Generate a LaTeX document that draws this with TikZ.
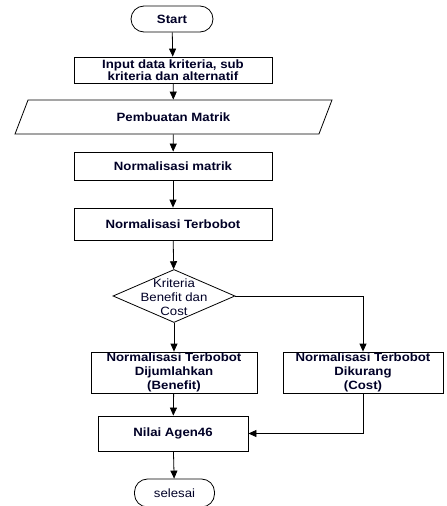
\documentclass[tikz,border=0pt]{standalone}
\usepackage{fontspec}
\setmainfont{Liberation Sans}[FakeStretch=1.1]
\usepackage{tikz}
\usetikzlibrary{shapes.geometric, arrows.meta}

\begin{document}
\begin{tikzpicture}[
		every node/.style={rectangle, draw, thick, align=center, inner sep=0pt,
			font=\bfseries\fontsize{12}{14}\selectfont, text=black!85!blue},
		terminal/.style={rounded corners=13pt},
		data/.style={trapezium, trapezium left angle=60, trapezium right angle=120,
			trapezium stretches=true},
		decision/.style={diamond, minimum width=122pt, minimum height=53pt},
		flow/.style={thick, -{Triangle[width=7pt, length=8pt]}}
	]
  \useasboundingbox (0pt, 0pt) rectangle (447pt, -506pt);
  \node (start) [terminal, minimum width=82pt, minimum height=26pt] at (172pt, -19pt) {Start};
  \node (input) [minimum width=198pt, minimum height=26pt, font=\bfseries\fontsize{12}{12}\selectfont] at (173pt, -70pt) {Input data kriteria, sub\\kriteria dan alternatif};
  \node (matrik) [data, minimum width=317pt, minimum height=34pt] at (173.5pt, -117pt) {Pembuatan Matrik};
  \node (norm) [minimum width=198pt, minimum height=28pt] at (173pt, -166pt) {Normalisasi matrik};
  \node (bobot) [minimum width=198pt, minimum height=32pt] at (173pt, -224pt) {Normalisasi Terbobot};
  \node (kriteria) [decision] at (174pt, -296pt) {};
  \node (kriteria_label) [draw=none, font=\fontsize{12}{14}\selectfont] at (174pt, -297pt) {Kriteria\\Benefit dan\\Cost};
  \node (benefit) [minimum width=166pt, minimum height=41pt] at (174pt, -372.5pt) {Normalisasi Terbobot\\Dijumlahkan\\(Benefit)};
  \node (cost) [minimum width=160pt, minimum height=41pt] at (363pt, -372.5pt) {Normalisasi Terbobot\\Dikurang\\(Cost)};
  \node (nilai) [minimum width=150pt, minimum height=35pt] at (173pt, -433.5pt) {Nilai Agen46};
  \node (selesai) [terminal, font=\fontsize{12}{14}\selectfont, minimum width=80pt, minimum height=28pt] at (174.5pt, -493pt) {selesai};
  \draw [flow] (start) -- (input);
  \draw [flow] (input) -- (matrik);
  \draw [flow] (matrik) -- (norm);
  \draw [flow] (norm) -- (bobot);
  \draw [flow] (bobot) -- (kriteria);
  \draw [flow] (kriteria) -- (benefit);
  \draw [flow] (kriteria.east) -| (cost.north);
  \draw [flow] (benefit) -- (nilai);
  \draw [flow] (cost.south) |- (nilai.east);
  \draw [flow] (nilai) -- (selesai);
\end{tikzpicture}
\end{document}
